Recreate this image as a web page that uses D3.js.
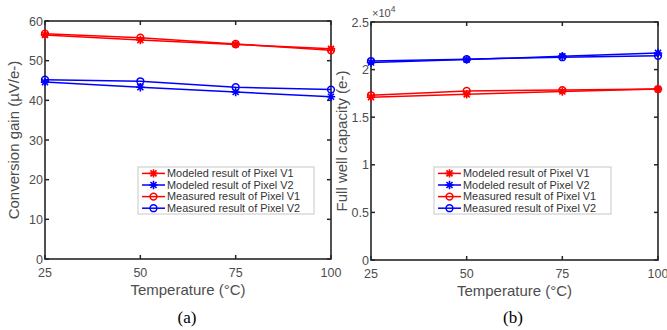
<!DOCTYPE html>
<html>
<head>
<meta charset="utf-8">
<script src="https://cdn.jsdelivr.net/npm/d3@7"></script>
<style>
  body { margin: 0; background: #fff; }
  svg { display: block; }
</style>
</head>
<body>
<div id="chart"></div>
<script>
// temperatures (x axis)
const temperatures = [25, 50, 75, 100];
const xTicks = [25, 50, 75, 100];

// (a) conversion gain, uV/e-
const gainModeledV1 = [56.5, 55.2, 54.1, 53.0];
const gainModeledV2 = [44.6, 43.3, 42.1, 40.9];
const gainMeasuredV1 = [56.8, 55.8, 54.2, 52.6];
const gainMeasuredV2 = [45.2, 44.8, 43.3, 42.7];
const gainTicks = [0, 10, 20, 30, 40, 50, 60];

// (b) full well capacity, e-
const fwcModeledV1 = [17100, 17400, 17700, 17950];
const fwcModeledV2 = [20750, 21050, 21400, 21750];
const fwcMeasuredV1 = [17300, 17750, 17850, 17950];
const fwcMeasuredV2 = [20900, 21100, 21300, 21450];
const fwcTicks = [0, 5000, 10000, 15000, 20000, 25000];

const legendLabels = ['Modeled result of Pixel V1', 'Modeled result of Pixel V2',
                      'Measured result of Pixel V1', 'Measured result of Pixel V2'];

const W = 667, H = 330;
const axisColor = '#262626';
const textColor = '#4d4d4d';
const font = '"Liberation Sans", Arial, Helvetica, sans-serif';

const svg = d3.select('#chart').append('svg')
    .attr('width', W).attr('height', H);

function starPath(r) {
    const d = r * 0.72;
    return `M${-r},0L${r},0M0,${-r}L0,${r}M${-d},${-d}L${d},${d}M${-d},${d}L${d},${-d}`;
}

function drawMarker(g, type, color, x, y) {
    if (type === 'star') {
        g.append('path')
            .attr('transform', `translate(${x},${y})`)
            .attr('d', starPath(4.2))
            .attr('stroke', color).attr('stroke-width', 1.6).attr('fill', 'none');
    } else {
        g.append('circle')
            .attr('cx', x).attr('cy', y).attr('r', 3.4)
            .attr('stroke', color).attr('stroke-width', 1.5).attr('fill', 'none');
    }
}

function drawPanel(opt) {
    const { left, right, top, bottom } = opt.box;
    const x = d3.scaleLinear().domain([25, 100]).range([left, right]);
    const y = d3.scaleLinear().domain(opt.yDomain).range([bottom, top]);
    const g = svg.append('g');

    // ticks (inside, mirrored on top/right)
    xTicks.forEach(t => {
        g.append('line').attr('x1', x(t)).attr('x2', x(t)).attr('y1', bottom).attr('y2', bottom - 4)
            .attr('stroke', axisColor).attr('stroke-width', 1.5);
        g.append('line').attr('x1', x(t)).attr('x2', x(t)).attr('y1', top).attr('y2', top + 4)
            .attr('stroke', axisColor).attr('stroke-width', 1.5);
        g.append('text').attr('x', x(t)).attr('y', bottom + 18)
            .attr('text-anchor', 'middle')
            .style('font', `12.5px ${font}`).attr('fill', textColor)
            .text(t);
    });
    opt.yTicks.forEach(t => {
        g.append('line').attr('x1', left).attr('x2', left + 4).attr('y1', y(t)).attr('y2', y(t))
            .attr('stroke', axisColor).attr('stroke-width', 1.5);
        g.append('line').attr('x1', right).attr('x2', right - 4).attr('y1', y(t)).attr('y2', y(t))
            .attr('stroke', axisColor).attr('stroke-width', 1.5);
        g.append('text').attr('x', left - 2).attr('y', y(t) + 4.5)
            .attr('text-anchor', 'end')
            .style('font', `12.5px ${font}`).attr('fill', textColor)
            .text(opt.yFormat(t));
    });

    g.append('rect')
        .attr('x', left).attr('y', top)
        .attr('width', right - left).attr('height', bottom - top)
        .attr('fill', 'none').attr('stroke', axisColor).attr('stroke-width', 1.6);

    // series
    const line = d3.line().x((d, i) => x(temperatures[i])).y(d => y(d));
    opt.series.forEach(s => {
        g.append('path').datum(s.values)
            .attr('d', line)
            .attr('fill', 'none').attr('stroke', s.color).attr('stroke-width', 1.5);
        s.values.forEach((v, i) => drawMarker(g, s.marker, s.color, x(temperatures[i]), y(v)));
    });

    // axis labels
    g.append('text')
        .attr('x', (left + right) / 2).attr('y', bottom + 36)
        .attr('text-anchor', 'middle')
        .style('font', `15px ${font}`).attr('fill', textColor)
        .text('Temperature (°C)');
    g.append('text')
        .attr('transform', `translate(${opt.yLabelX},${(top + bottom) / 2}) rotate(-90)`)
        .attr('text-anchor', 'middle')
        .style('font', `15px ${font}`).attr('fill', textColor)
        .text(opt.yLabel);

    // caption
    g.append('text')
        .attr('x', opt.captionX).attr('y', 323)
        .attr('text-anchor', 'middle')
        .style('font', '17px "Liberation Serif", "Times New Roman", serif').attr('fill', '#000')
        .text(opt.caption);

    // legend
    const lg = opt.legend;
    g.append('rect')
        .attr('x', lg.x).attr('y', lg.y).attr('width', lg.w).attr('height', lg.h)
        .attr('fill', '#fff').attr('stroke', '#c8c8c8').attr('stroke-width', 1);
    opt.series.forEach((s, i) => {
        const cy = lg.y + 6.4 + i * 11.6;
        g.append('line').attr('x1', lg.x + 4).attr('x2', lg.x + 27).attr('y1', cy).attr('y2', cy)
            .attr('stroke', s.color).attr('stroke-width', 1.5);
        drawMarker(g, s.marker, s.color, lg.x + 15.5, cy);
        g.append('text').attr('x', lg.x + 29).attr('y', cy + 3.8)
            .style('font', `10.9px ${font}`).attr('fill', '#333')
            .text(legendLabels[i]);
    });
    return g;
}

drawPanel({
    box: { left: 45, right: 331, top: 21, bottom: 259 },
    yDomain: [0, 60],
    yTicks: gainTicks,
    yFormat: d => d,
    yLabel: 'Conversion gain (µV/e-)',
    yLabelX: 19,
    caption: '(a)',
    captionX: 187,
    legend: { x: 138, y: 167, w: 176, h: 47 },
    series: [
        { values: gainModeledV1, color: '#ff0000', marker: 'star' },
        { values: gainModeledV2, color: '#0000ff', marker: 'star' },
        { values: gainMeasuredV1, color: '#ff0000', marker: 'circle' },
        { values: gainMeasuredV2, color: '#0000ff', marker: 'circle' }
    ]
});

const right = drawPanel({
    box: { left: 371, right: 658, top: 22, bottom: 260 },
    yDomain: [0, 25000],
    yTicks: fwcTicks,
    yFormat: d => d / 1e4,
    yLabel: 'Full well capacity (e-)',
    yLabelX: 347,
    caption: '(b)',
    captionX: 513,
    legend: { x: 434, y: 167, w: 177, h: 47 },
    series: [
        { values: fwcModeledV1, color: '#ff0000', marker: 'star' },
        { values: fwcModeledV2, color: '#0000ff', marker: 'star' },
        { values: fwcMeasuredV1, color: '#ff0000', marker: 'circle' },
        { values: fwcMeasuredV2, color: '#0000ff', marker: 'circle' }
    ]
});

// exponent label
const expo = right.append('text')
    .attr('x', 372).attr('y', 17)
    .style('font', `11px ${font}`).attr('fill', textColor);
expo.append('tspan').text('×10');
expo.append('tspan').attr('dy', -5).style('font-size', '8.5px').text('4');
</script>
</body>
</html>
